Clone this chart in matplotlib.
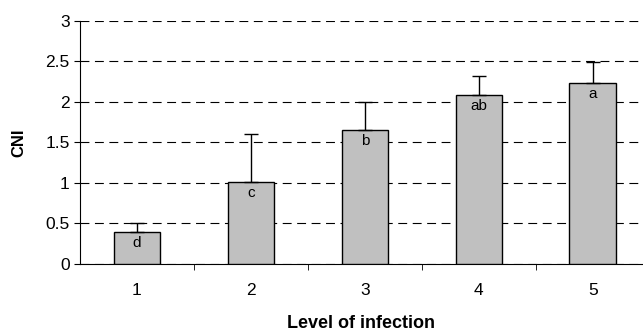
import matplotlib.pyplot as plt
import numpy as np

# data
levels = ['1', '2', '3', '4', '5']
cni = [0.40, 1.01, 1.66, 2.09, 2.23]
err = [0.10, 0.59, 0.34, 0.23, 0.26]
letters = ['d', 'c', 'b', 'ab', 'a']

plt.rcParams['font.family'] = ['Liberation Sans', 'DejaVu Sans']

fig = plt.figure(figsize=(6.43, 3.33), dpi=100)
ax = fig.add_axes([0.1244, 0.2072, 0.8756, 0.7298])

x = np.arange(1, len(levels) + 1)
ax.bar(x, cni, width=0.41, color='#c0c0c0', edgecolor='black', linewidth=1.0, zorder=3)
ax.errorbar(x, cni, yerr=[np.zeros(len(err)), err], fmt='none', ecolor='black',
            elinewidth=1.0, capsize=5, capthick=1.0, zorder=4)

# letters inside the bars
for xi, yi, t in zip(x, cni, letters):
    ax.text(xi, yi - 0.05, t, ha='center', va='top', fontsize=11, zorder=5)

ax.set_ylim(0, 3)
ax.set_yticks([0, 0.5, 1, 1.5, 2, 2.5, 3])
ax.set_yticklabels(['0', '0.5', '1', '1.5', '2', '2.5', '3'], fontsize=12.5)
ax.set_xlim(0.5, 5.44)
ax.set_xticks(x)
ax.set_xticklabels(levels, fontsize=12.5)
ax.tick_params(axis='x', length=0, pad=14)
ax.set_xticks(np.arange(1.5, 5.5, 1), minor=True)
ax.tick_params(axis='x', which='minor', length=4.5, direction='out')
ax.tick_params(axis='y', length=4.5, direction='out', pad=3)

ax.yaxis.grid(True, linestyle=(0, (8, 5)), color='black', linewidth=0.8, zorder=0)
ax.set_axisbelow(True)

for s in ['top', 'right']:
    ax.spines[s].set_visible(False)

ax.set_xlabel('Level of infection', fontsize=13, fontweight='bold', va='baseline')
ax.xaxis.set_label_coords(0.5, -0.265)
ax.set_ylabel('CNI', fontsize=12, fontweight='bold', va='center')
ax.yaxis.set_label_coords(-0.109, 0.5)

fig.savefig('out.png', dpi=100)
